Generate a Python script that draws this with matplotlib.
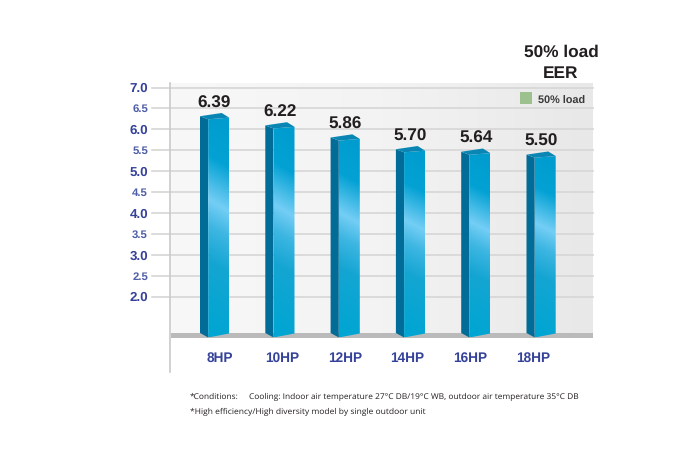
import matplotlib
matplotlib.use("Agg")
import matplotlib.pyplot as plt
import numpy as np
from matplotlib.colors import LinearSegmentedColormap
from matplotlib.patches import Polygon

plt.rcParams["font.family"] = ["Liberation Sans", "DejaVu Sans"]
plt.rcParams["text.hinting"] = "none"

models = ["8HP", "10HP", "12HP", "14HP", "16HP", "18HP"]
eer_labels = ["6.39", "6.22", "5.86", "5.70", "5.64", "5.50"]
# the drawn heights differ a little from the printed labels in the source
bar_heights = [6.39, 6.17, 5.88, 5.60, 5.54, 5.47]
y_ticks = [2.0, 2.5, 3.0, 3.5, 4.0, 4.5, 5.0, 5.5, 6.0, 6.5, 7.0]

W, H = 700, 466
NAVY = "#35429a"
PANEL = (171, 593, 83, 338)  # left, right, top, bottom in pixels
PX_PER_UNIT = 41.8
PX_PER_STEP = 65.3
FIRST_BAR = 214.5
LABEL_STEP = 62.7 / PX_PER_STEP


def px_x(px):
    return px / W


def px_y(py):
    return 1 - py / H


fig = plt.figure(figsize=(W / 100, H / 100), dpi=100)
left, right, top, bottom = PANEL
ax = fig.add_axes([px_x(left), px_y(bottom), (right - left) / W, (bottom - top) / H])
ax.set_axis_off()

y_top = 7.0 + (87.5 - top) / PX_PER_UNIT
y_bottom = 7.0 - (bottom - 87.5) / PX_PER_UNIT
x_min = (left - FIRST_BAR) / PX_PER_STEP
x_max = (right - FIRST_BAR) / PX_PER_STEP

panel_cmap = LinearSegmentedColormap.from_list("panel", ["#f8f8f8", "#f3f3f3", "#e8e8e8"])
ax.imshow(np.linspace(0, 1, 200).reshape(1, -1), extent=(x_min, x_max, y_bottom, y_top),
          aspect="auto", cmap=panel_cmap, zorder=0)

# grid lines start out left of the panel, next to the tick labels
for tick in y_ticks:
    ax.plot([(152 - FIRST_BAR) / PX_PER_STEP, x_max], [tick, tick], color="#d6d6d6", lw=1.2,
            clip_on=False, zorder=1)

# floor strip
floor_y = 7.0 - (333 - 87.5) / PX_PER_UNIT
ax.fill_between([x_min, x_max], y_bottom, floor_y, color="#bababa", lw=0, zorder=2)

front_cmap = LinearSegmentedColormap.from_list(
    "front", [(0, "#009ccf"), (0.2, "#04a2d4"), (0.4, "#74cef5"), (0.52, "#3db6e2"),
              (0.68, "#14a5d2"), (1, "#00a6d3")])

# light band runs slightly uphill to the right
xs, ys = np.meshgrid(np.linspace(0, 1, 40), np.linspace(0, 1, 256))
front_grad = ys - 0.055 * (xs - 0.5)

# bar geometry, converted from pixels to axis units
side_w = 8.2 / PX_PER_STEP
front_w = 21.0 / PX_PER_STEP
back_x = 21.7 / PX_PER_STEP
start = -14.5 / PX_PER_STEP
base_back = floor_y
base_front = 7.0 - (337.5 - 87.5) / PX_PER_UNIT
base_right = 7.0 - (333.5 - 87.5) / PX_PER_UNIT
drop_left = 3.2 / PX_PER_UNIT
drop_front = 6.3 / PX_PER_UNIT
drop_right = 4.6 / PX_PER_UNIT

for i, h in enumerate(bar_heights):
    x0 = i + start
    x1 = x0 + side_w
    x2 = x1 + front_w

    side = Polygon([(x0, h - drop_left), (x1, h - drop_front), (x1, base_front), (x0, base_back)],
                   closed=True, fc="#016c97", ec="none", zorder=3)
    ax.add_patch(side)

    cap = Polygon([(x0, h - drop_left), (x0 + back_x, h), (x2, h - drop_right), (x1, h - drop_front)],
                  closed=True, fc="#0986b3", ec="none", zorder=4)
    ax.add_patch(cap)

    front = Polygon([(x1, h - drop_front), (x2, h - drop_right), (x2, base_right), (x1, base_front)],
                    closed=True, fc="none", ec="none", zorder=3)
    ax.add_patch(front)
    grad = ax.imshow(front_grad, extent=(x1, x2, base_front, h - drop_right),
                     aspect="auto", cmap=front_cmap, vmin=0, vmax=1, zorder=3)
    grad.set_clip_path(front)

    ax.text(i, h + 0.05, eer_labels[i], ha="center", va="bottom", fontsize=12.3, fontweight="bold",
            color="#231f20", zorder=5)

ax.set_xlim(x_min, x_max)
ax.set_ylim(y_bottom, y_top)

# y tick labels, whole numbers are bigger and darker
for tick in y_ticks:
    whole = float(tick).is_integer()
    ax.text((148 - FIRST_BAR) / PX_PER_STEP, tick, f"{tick:.1f}", ha="right", va="center_baseline",
            fontweight="bold", fontsize=9.6 if whole else 8.2, color=NAVY if whole else "#4f5ea8",
            clip_on=False)

for i, model in enumerate(models):
    ax.text(5 / PX_PER_STEP + i * LABEL_STEP, 7.0 - (357 - 87.5) / PX_PER_UNIT, model, ha="center",
            va="center_baseline", fontweight="bold", fontsize=9.8, color=NAVY, clip_on=False)

# y axis rule continues below the panel
fig.add_artist(plt.Line2D([px_x(170), px_x(170)], [px_y(83), px_y(372)], color="#c9c9c9", lw=1.2))

# legend swatch and titles
fig.patches.append(plt.Rectangle((px_x(520), px_y(104)), 12 / W, 12 / H, transform=fig.transFigure,
                                 fc="#9dc18e", ec="none"))
fig.text(px_x(538), px_y(100), "50% load", ha="left", va="center_baseline", fontsize=7.8, fontweight="bold",
         color="#3a3a3a")
fig.text(px_x(561), px_y(51), "50% load", ha="center", va="center_baseline", fontsize=12.4, fontweight="bold",
         color="#231f20")
fig.text(px_x(561), px_y(72), "EER", ha="center", va="center_baseline", fontsize=12.4, fontweight="bold",
         color="#231f20")

fig.text(px_x(190), px_y(399), "*Conditions:", ha="left", va="baseline", fontsize=6.0,
         family="Open Sans", color="#231f20")
fig.text(px_x(249), px_y(399), "Cooling: Indoor air temperature 27°C DB/19°C WB, outdoor air temperature 35°C DB",
         ha="left", va="baseline", fontsize=6.0, family="Open Sans", color="#231f20")
fig.text(px_x(190), px_y(414), "*High efficiency/High diversity model by single outdoor unit", ha="left",
         va="baseline", fontsize=6.1, family="Open Sans", color="#231f20")

fig.savefig("out.png", dpi=100)
plt.close(fig)
